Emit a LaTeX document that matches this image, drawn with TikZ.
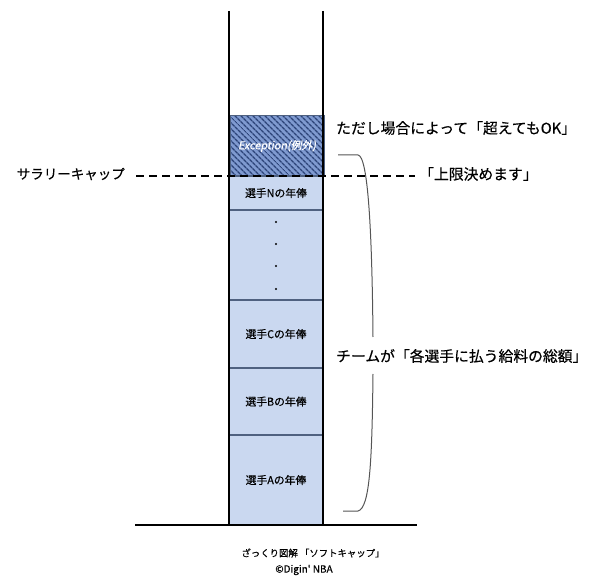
\documentclass[tikz,border=0pt]{standalone}
\usepackage{fontspec}
\usetikzlibrary{patterns.meta}
\newfontfamily\jp[FakeBold=0.4]{Noto Sans CJK JP}
\newfontfamily\jpit[FakeSlant=0.2,FakeBold=0.3]{Noto Sans CJK JP}
\definecolor{boxfill}{HTML}{CAD8F0}
\definecolor{divider}{HTML}{4F6180}
\definecolor{hatchbase}{HTML}{7F9AD0}
\definecolor{hatchline}{HTML}{2C4378}
\definecolor{bracecol}{HTML}{555555}
\tikzset{
  salbox/.style={rectangle, draw=divider, line width=1.6pt, fill=boxfill,
    minimum width=94pt, inner sep=0pt, font=\jp\fontsize{10.8}{12}\selectfont},
  wall/.style={line width=1.8pt, black},
  label/.style={font=\jp\fontsize{14.8}{17}\selectfont, inner sep=0pt},
  capline/.style={line width=1.8pt, dash pattern=on 8pt off 5pt},
  bracestyle/.style={line width=1pt, bracecol},
  dot/.style={circle, fill=black, inner sep=0pt, minimum size=2.4pt}
}
\begin{document}
\begin{tikzpicture}[x=1pt,y=-1pt]
\useasboundingbox (0,0) rectangle (600,585);
% boxes
\node[salbox, minimum height=90pt] (A) at (276,480) {選手Aの年俸};
\node[salbox, minimum height=67pt] (B) at (276,401.5) {選手Bの年俸};
\node[salbox, minimum height=68pt] (C) at (276,334) {選手Cの年俸};
\node[salbox, minimum height=89pt] (D) at (276,255) {};
\node[salbox, minimum height=34pt] (N) at (276,193) {選手Nの年俸};
\path[fill=hatchbase] (229,116) rectangle (323,176);
\path[pattern={Lines[angle=-45,distance=4pt,line width=1.4pt]}, pattern color=hatchline] (229,116) rectangle (323,176);
\node[rectangle, draw=divider, line width=1pt, minimum width=94pt, minimum height=60pt, inner sep=0pt,
  text=white, font=\jpit\fontsize{10.8}{12}\selectfont] (E) at (277,146) {Exception(例外)};
% dots
\node[dot] (d1) at (276,222) {};
\node[dot] (d2) at (276,244) {};
\node[dot] (d3) at (276,266) {};
\node[dot] (d4) at (276,289) {};
% walls and floor
\coordinate (wl1) at (229,11); \coordinate (wl2) at (229,525);
\coordinate (wr1) at (323,11); \coordinate (wr2) at (323,525);
\coordinate (fl) at (135,525); \coordinate (fr) at (417,525);
\draw[wall] (wl1) -- (wl2);
\draw[wall] (wr1) -- (wr2);
\draw[wall] (fl) -- (fr);
% salary cap line
\coordinate (capL) at (136,176); \coordinate (capR) at (415,176);
\draw[capline] (capL) -- (capR);
\node[label, font=\jp\fontsize{13.5}{16}\selectfont, anchor=east] (cap) at (125,174) {サラリーキャップ};
\node[label, anchor=west] (limit) at (419,174) {「上限決めます」};
\node[label, anchor=west] (exc) at (336,128) {ただし場合によって「超えてもOK」};
% brace
\coordinate (b1) at (338,155); \coordinate (b2) at (358,155);
\coordinate (b3) at (373,337); \coordinate (b4) at (373,374);
\coordinate (b5) at (358,511); \coordinate (b6) at (343,511);
\draw[bracestyle] (b1) -- (b2) .. controls (368,156) and (372,230) .. (b3);
\draw[bracestyle] (b4) .. controls (372,460) and (370,508) .. (b5) -- (b6);
\node[label, anchor=west] (total) at (336,356) {チームが「各選手に払う給料の総額」};
% caption
\node[font=\jp\fontsize{9.4}{12}\selectfont, inner sep=0pt] (cap1) at (313,553) {ざっくり図解\ 「ソフトキャップ」};
\node[font=\jp\fontsize{10}{12}\selectfont, inner sep=0pt] (cap2) at (304,570) {©Digin' NBA};
\end{tikzpicture}
\end{document}
